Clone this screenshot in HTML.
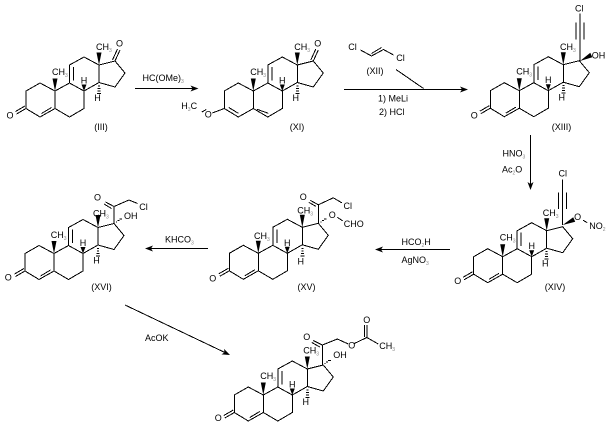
<!DOCTYPE html>
<html><head><meta charset="utf-8"><style>
html,body{margin:0;padding:0;background:#fff;width:610px;height:430px;overflow:hidden}
svg{display:block}
text{font-family:"Liberation Sans",sans-serif;font-size:9px;fill:#000}
.s{font-size:5px;fill:#888}
.b{fill:none;stroke:#000;stroke-width:1;shape-rendering:crispEdges}
.c{text-anchor:middle}
</style></head><body>
<svg width="610" height="430" viewBox="0 0 610 430" xmlns="http://www.w3.org/2000/svg">
<defs>
<g id="core">
<path class="b" d="M0 0L-15 -8L-29 0V17.5L-15 26L0 17.5V0L14.5 -8L29 0V17.5L14.5 26L0 17.5M14.5 -8V-26L29 -34L44 -26V-8.5L29 0M44 -26L60 -30L70 -18L60 -4L44 -8.5M18.5 -10.5V-24"/>
<path d="M0 0L-2.5 -12.5H2.5Z"/>
<path d="M29 0L26.5 -6.5H31.5Z"/>
<path d="M44 -26L41.5 -38.5H46.5Z"/>
</g>
<g id="hash"><path class="b" d="M43 -5H45M42.5 -2.5H45.5M42.5 0H45.5M42 2.5H46"/></g>
<g id="enone"><path class="b" d="M-29 17.5L-38.5 23M-30 15L-39.5 20.5M-13.5 22.5L-3.5 16.5"/></g>
<g id="ah"><path d="M0 0L-8 -3L-6 0L-8 3Z"/></g>
</defs>

<!-- III -->
<g transform="translate(55,91)"><use href="#core"/><use href="#hash"/><use href="#enone"/>
<path class="b" d="M60 -30L65 -41M57.5 -31L62.5 -42"/>
<text x="-3" y="-16">CH<tspan class="s" dy="2">3</tspan></text>
<text x="29" y="-7.5" class="c">H</text><text x="42.5" y="10" class="c">H</text>
<text x="41" y="-41">CH<tspan class="s" dy="2">3</tspan></text>
<text x="64.5" y="-44.5" class="c">O</text><text x="-45" y="27.5" class="c">O</text>
</g>
<text x="101" y="130" class="c">(III)</text>

<!-- arrow 1 -->
<path class="b" d="M135 88.5H195"/><use href="#ah" x="198.5" y="88.5"/>
<text x="142.5" y="81">HC(OMe)<tspan class="s" dy="2">3</tspan></text>

<!-- XI -->
<g transform="translate(253.3,91)"><use href="#core"/><use href="#hash"/>
<path class="b" d="M60 -30L65 -41M57.5 -31L62.5 -42M-24.5 16.5L-15 22.3M3.5 18.2L15 22.3M-29 17.5L-41 22M-47 18.5L-51.5 21"/>
<text x="-3" y="-16">CH<tspan class="s" dy="2">3</tspan></text>
<text x="29" y="-7.5" class="c">H</text><text x="42.5" y="10" class="c">H</text>
<text x="41" y="-41">CH<tspan class="s" dy="2">3</tspan></text>
<text x="64.5" y="-44.5" class="c">O</text><text x="-45" y="26.5" class="c">O</text>
<text x="-72" y="18">H<tspan class="s" dy="2">3</tspan><tspan dy="-2">C</tspan></text>
</g>
<text x="297" y="130" class="c">(XI)</text>

<!-- XII + arrow 2 -->
<path class="b" d="M344 89.5H465M396 69.5L423.5 88.5M360.5 50L371.5 56L383.5 49.5L393.5 55M371.5 53.5L381.5 47.5"/><use href="#ah" x="468" y="89.5"/>
<text x="352.5" y="50" class="c">Cl</text><text x="400.5" y="61" class="c">Cl</text>
<text x="375" y="74" class="c">(XII)</text>
<text x="378" y="101.5">1) MeLi</text><text x="379" y="115">2) HCl</text>

<!-- XIII -->
<g transform="translate(519.3,90.7)"><use href="#core"/><use href="#hash"/><use href="#enone"/>
<path class="b" d="M60.7 -29.7V-77M56.7 -51V-68M64.7 -51V-68"/>
<path d="M60.7 -29.7L71 -38L73 -33.5Z"/>
<text x="-3" y="-16">CH<tspan class="s" dy="2">3</tspan></text>
<text x="29" y="-7.5" class="c">H</text><text x="42.5" y="10" class="c">H</text>
<text x="40.7" y="-40.7">CH<tspan class="s" dy="2">3</tspan></text>
<text x="60" y="-79" class="c">Cl</text><text x="72.5" y="-32">OH</text>
<text x="-45" y="28" class="c">O</text>
</g>
<text x="561.5" y="130" class="c">(XIII)</text>

<!-- arrow 3 -->
<path class="b" d="M530.5 135V186"/><use href="#ah" transform="translate(530.5,190) rotate(90)"/>
<text x="502.5" y="156.5">HNO<tspan class="s" dy="2">3</tspan></text>
<text x="502" y="172.5">Ac<tspan class="s" dy="2">2</tspan><tspan dy="-2">O</tspan></text>

<!-- XIV -->
<g transform="translate(502.7,256.7)"><use href="#core"/><use href="#hash"/><use href="#enone"/>
<path class="b" d="M60 -31.7V-77M56 -47.5V-64M64 -47.5V-64M80.5 -36.5L84.5 -34"/>
<path d="M60 -31.7L70.5 -39.5L72.5 -35Z"/>
<text x="-3" y="-16">CH<tspan class="s" dy="2">3</tspan></text>
<text x="29" y="-7.5" class="c">H</text><text x="42.5" y="10" class="c">H</text>
<text x="40" y="-40.7">CH<tspan class="s" dy="2">3</tspan></text>
<text x="60" y="-80" class="c">Cl</text><text x="75" y="-36.5" class="c">O</text>
<text x="86.5" y="-27.5">NO<tspan class="s" dy="2">2</tspan></text>
<text x="-45" y="27.5" class="c">O</text>
</g>
<text x="555" y="290" class="c">(XIV)</text>

<!-- arrow 4 -->
<path class="b" d="M450 249.5H379"/><use href="#ah" transform="translate(375,249.5) rotate(180)"/>
<text x="401.5" y="245">HCO<tspan class="s" dy="2">2</tspan><tspan dy="-2">H</tspan></text>
<text x="401.5" y="263">AgNO<tspan class="s" dy="2">3</tspan></text>

<!-- XV -->
<g transform="translate(258.3,253.3)"><use href="#core"/><use href="#enone"/>
<path class="b" d="M43 -5H45M43 -2.5H45M42.5 0H45.5M42 2.5H46"/>
<path class="b" d="M60 -30V-48.5L75 -55.5L83.5 -50.5M60 -48.5L52 -53M57.5 -47L50.5 -51M79 -36L84.5 -32.3"/>
<path class="b" d="M62 -31.5H63M63.5 -33H65.5M65.5 -34.5H68"/>
<text x="-4.3" y="-14.5">CH<tspan class="s" dy="2">3</tspan></text>
<text x="29" y="-7.5" class="c">H</text><text x="42.5" y="11" class="c">H</text>
<text x="39" y="-40">CH<tspan class="s" dy="2">3</tspan></text>
<text x="45" y="-53.5" class="c">O</text><text x="89.5" y="-44.5" class="c">Cl</text>
<text x="74" y="-35.5" class="c">O</text><text x="85.5" y="-26.5">CHO</text>
<text x="-45.5" y="28" class="c">O</text>
</g>
<text x="306.5" y="290" class="c">(XV)</text>

<!-- arrow 5 -->
<path class="b" d="M208 248.5H149"/><use href="#ah" transform="translate(145,248.5) rotate(180)"/>
<text x="165" y="242.5">KHCO<tspan class="s" dy="2">3</tspan></text>

<!-- XVI -->
<g transform="translate(54,253.5)"><use href="#core"/><use href="#enone"/>
<path class="b" d="M43 -5H45M43 -2.5H45M42.5 0H45.5M42 2.5H46"/>
<path class="b" d="M60 -30V-47L75 -53.5L83.5 -50M60 -47L51.5 -51.5M57.5 -45L50 -49.5"/>
<path class="b" d="M62 -31.5H63M63.5 -33H65.5M65.5 -34.5H68"/>
<text x="-3.3" y="-15.5">CH<tspan class="s" dy="2">3</tspan></text>
<text x="29" y="-7.5" class="c">H</text><text x="42.5" y="10" class="c">H</text>
<text x="39" y="-37">CH<tspan class="s" dy="2">3</tspan></text>
<text x="43.5" y="-53" class="c">O</text><text x="89.5" y="-43.5" class="c">Cl</text>
<text x="70" y="-34.5">OH</text>
<text x="-45.7" y="27" class="c">O</text>
</g>
<text x="101.5" y="290" class="c">(XVI)</text>

<!-- arrow 6 -->
<path class="b" d="M125 305L227 353.5"/><use href="#ah" transform="translate(230,355) rotate(25)"/>
<text x="145" y="341">AcOK</text>

<!-- XVII -->
<g transform="translate(263.3,395)"><use href="#core"/><use href="#hash"/><use href="#enone"/>
<path class="b" d="M59 -30V-50L74 -56L85 -51M59 -50L50 -54.5M56.5 -48L48.5 -52.5M91 -51.5L103.5 -57.5V-70M101 -58V-70M103.5 -57.5L115 -51"/>
<path class="b" d="M61 -31.5H62M62.5 -33H64.5M64.5 -34.5H67.5"/>
<text x="-3" y="-16">CH<tspan class="s" dy="2">3</tspan></text>
<text x="29" y="-7.5" class="c">H</text><text x="42.5" y="10" class="c">H</text>
<text x="40" y="-41.5">CH<tspan class="s" dy="2">3</tspan></text>
<text x="43.5" y="-55" class="c">O</text><text x="88.5" y="-46.5" class="c">O</text>
<text x="103.5" y="-72" class="c">O</text><text x="116" y="-46">CH<tspan class="s" dy="2">3</tspan></text>
<text x="70" y="-37">OH</text>
<text x="-45" y="26" class="c">O</text>
</g>
</svg>
</body></html>
